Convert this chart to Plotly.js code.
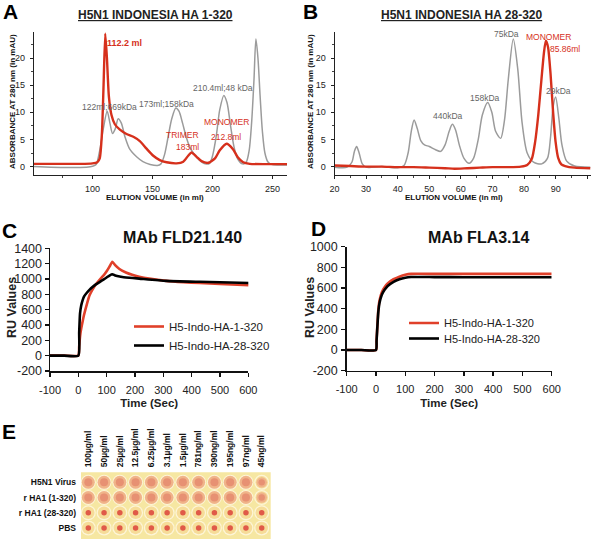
<!DOCTYPE html>
<html>
<head>
<meta charset="utf-8">
<script src="https://cdn.plot.ly/plotly-3.0.1.min.js"></script>
<style>html,body{margin:0;padding:0;background:#fff;}#chart{width:592px;height:539px;}</style>
</head>
<body>
<div id="chart"></div>
<script>
// ---------- Panel A: H5N1 Indonesia HA 1-320 (size exclusion) ----------
const aGrayVol = [51,65,80,95,100,103,106,109,112.2,114.5,116.7,119,121.4,124,127,131,136.7,142,148,154,157,160,163,166,169.4,172,175,178,181,185,189,194,197.5,200,203,206,209.4,212,215,218,221,225,228,230.5,232.5,234.5,236.1,237.8,239.6,241.5,243.6,246,249,255,262];
const aGrayAbs = [0,-0.1,-0.15,-0.1,0.05,0.4,3,7,10.2,8,6.1,7,8.8,8,5.5,3.2,1.8,0.9,0.4,0.2,0.5,2.2,5.5,8.8,10.8,10.2,8,5.5,3.6,2.2,1.2,0.5,0.6,2,5.5,10.5,13.1,11.8,7.5,3.5,1.4,0.5,0.8,3,8,16,23.5,20,13,6.5,2.5,0.9,0.4,0.3,0.3];
const aRedVol = [51,70,90,100,104,106,107.8,109.2,110.6,112,113.6,115.8,118.6,122.8,128.3,134,139.4,145,150.6,156,161.7,170,175.6,179.7,182.5,186.7,190.8,196.4,202,206,211.7,217,221,225.5,231,245,262];
const aRedAbs = [0.5,0.5,0.5,0.6,0.8,1.5,6,15,24.5,20,13,9.5,7.8,6.8,6,5.5,4.7,3.3,2,1.2,0.8,0.6,0.9,2,2.6,1.8,1,0.7,1.5,3,4.2,3.2,1.7,0.8,0.5,0.45,0.45];

// ---------- Panel B: H5N1 Indonesia HA 28-320 ----------
const bGrayVol = [20,24,25.5,26.3,27,27.8,28.8,30,35,40,42,43.3,44.3,45.2,46.2,47.3,48.5,50,52,53.6,55,56.3,57.3,58.3,59.5,61,62.6,64,65.5,66.8,68.5,69.8,71,72.6,73.8,75,76.6,78,79.4,81,83,85.6,87.4,88.4,89.2,90,91,92,93.5,96,101];
const bGrayAbs = [-0.1,-0.1,0.8,2.8,3.7,2.5,0.5,-0.1,0,-0.2,0.2,2.5,6.5,8.6,7,4.8,4,3.7,3.1,2.8,4,6.5,7.8,6.8,4,1.5,0.6,1.5,5,9.5,11.8,10,6.5,5.2,8.5,16,23.5,18,8,2.5,0.8,0.5,1.5,5.5,11,12.8,9,4,1,0.1,-0.1];
const bRedVol = [20,25,30,35,40,45,50,55,58,62,66,70,75,79,81,82.5,83.5,84.5,85.5,86.3,86.9,87.6,88.4,89.2,90,90.8,91.8,93,96,101];
const bRedAbs = [0.2,0.1,0,0,-0.1,-0.1,-0.2,-0.3,-0.4,-0.3,-0.2,-0.1,-0.1,0,0.3,1.5,4.5,9.5,16,21,23.2,22,17,10,4.5,1.6,0.4,0.1,-0.2,-0.3];

// ---------- Panel C: MAb FLD21.140 ----------
const cRedTime = [-100,-50,0,3,6,10,15,20,30,40,50,62,75,90,100,110,120,130,145,168,190,215,250,310,370,428,500,604];
const cRedRU   = [0,0,0,120,250,350,443,530,670,790,860,930,990,1050,1100,1160,1225,1180,1130,1085,1055,1030,1005,975,958,947,935,918];
const cBlkTime = [-100,-50,0,3,6,10,15,20,30,40,50,62,75,90,100,110,120,130,150,168,215,310,428,500,604];
const cBlkRU   = [0,0,0,300,550,650,720,770,820,860,895,930,960,995,1020,1045,1062,1045,1030,1020,1005,975,963,957,948];

// ---------- Panel D: MAb FLA3.14 ----------
const dTime   = [-100,-50,0,2,4,6,8,12,20,30,40,60,80,100,120,200,300,400,500,600];
const dRedRU  = [0,0,0,100,200,300,390,480,560,610,645,685,710,728,737,737,737,737,737,737];
const dBlkRU  = [0,0,0,90,190,285,370,455,535,585,620,660,685,700,707,706,705,705,705,705];

const series1 = 'H5-Indo-HA-1-320';
const series2 = 'H5-Indo-HA-28-320';

// tick labels of the binding panels
const timeTicks = [-100,0,100,200,300,400,500,600];
const cRUTicks = [-200,0,200,400,600,800,1000,1200,1400];
const dRUTicks = [-200,0,200,400,600,800,1000];

// ---------- Panel E: hemagglutination plate ----------
const eCols = ['100µg/ml','50µg/ml','25µg/ml','12.5µg/ml','6.25µg/ml','3.1µg/ml','1.5µg/ml','781ng/ml','390ng/ml','195ng/ml','97ng/ml','45ng/ml'];
const eRows = ['H5N1 Virus','r HA1 (1-320)','r HA1 (28-320)','PBS'];
// 1 = diffuse (agglutinated) well, 0 = button (no agglutination)
const eAgglut = [
  [1,1,1,1,1,1,1,1,1,1,1,0.8],
  [1,1,1,1,1,1,1,1,1,1,1,0.8],
  [0,0,0,0,0,0,0,0,0,0,0,0],
  [0,0,0,0,0,0,0,0,0,0,0,0]
];

// ---------- styles ----------
const NARROW = '"Liberation Sans Narrow", "Arial Narrow", "Liberation Sans", Arial, sans-serif';
const SANS = '"Liberation Sans", Arial, Helvetica, sans-serif';
const RED = '#d6301c';
const GRAY = '#9b9b9b';
const W = 592, H = 539;
const px = v => v / W;
const py = v => 1 - v / H;

const traces = [];
// A
traces.push({x:aGrayVol, y:aGrayAbs, xaxis:'x', yaxis:'y', mode:'lines', line:{color:GRAY, width:1.5, shape:'spline', smoothing:0.8}, showlegend:false, hoverinfo:'skip'});
traces.push({x:aRedVol, y:aRedAbs, xaxis:'x', yaxis:'y', mode:'lines', line:{color:RED, width:2.4, shape:'spline', smoothing:0.6}, showlegend:false, hoverinfo:'skip'});
// B
traces.push({x:bGrayVol, y:bGrayAbs, xaxis:'x2', yaxis:'y2', mode:'lines', line:{color:GRAY, width:1.5, shape:'spline', smoothing:0.8}, showlegend:false, hoverinfo:'skip'});
traces.push({x:bRedVol, y:bRedAbs, xaxis:'x2', yaxis:'y2', mode:'lines', line:{color:RED, width:2.4, shape:'spline', smoothing:0.6}, showlegend:false, hoverinfo:'skip'});
// C
traces.push({x:cRedTime, y:cRedRU, xaxis:'x3', yaxis:'y3', mode:'lines', name:series1, line:{color:'#e0402a', width:2.6, shape:'spline', smoothing:0.5}, legend:'legend'});
traces.push({x:cBlkTime, y:cBlkRU, xaxis:'x3', yaxis:'y3', mode:'lines', name:series2, line:{color:'#000', width:2.6, shape:'spline', smoothing:0.5}, legend:'legend'});
// D
traces.push({x:dTime, y:dRedRU, xaxis:'x4', yaxis:'y4', mode:'lines', name:series1, line:{color:'#e0402a', width:2.6, shape:'spline', smoothing:0.5}, legend:'legend2'});
traces.push({x:dTime, y:dBlkRU, xaxis:'x4', yaxis:'y4', mode:'lines', name:series2, line:{color:'#000', width:2.6, shape:'spline', smoothing:0.5}, legend:'legend3'});

// E wells
const wx = [], wy = [], dx = [], dy = [], dsz = [], bx = [], by = [];
eRows.forEach((r, ri) => {
  eCols.forEach((c, ci) => {
    wx.push(ci); wy.push(ri);
    const a = eAgglut[ri][ci];
    if (a > 0) { dx.push(ci); dy.push(ri); dsz.push(a); }
    else { bx.push(ci); by.push(ri); }
  });
});
traces.push({x:wx, y:wy, xaxis:'x5', yaxis:'y5', mode:'markers', marker:{size:15, color:'#fdf5d6', line:{width:0}}, showlegend:false, hoverinfo:'skip'});
traces.push({x:wx, y:wy, xaxis:'x5', yaxis:'y5', mode:'markers', marker:{size:12.5, color:'#f6dc98', line:{width:0}}, showlegend:false, hoverinfo:'skip'});
traces.push({x:dx, y:dy, xaxis:'x5', yaxis:'y5', mode:'markers', marker:{size:dsz.map(a => 13 * a), color:'#eea383', line:{width:0}}, showlegend:false, hoverinfo:'skip'});
traces.push({x:dx, y:dy, xaxis:'x5', yaxis:'y5', mode:'markers', marker:{size:dsz.map(a => 8 * a), color:'#e2816a', line:{width:0}}, showlegend:false, hoverinfo:'skip'});
traces.push({x:bx, y:by, xaxis:'x5', yaxis:'y5', mode:'markers', marker:{size:5.5, color:'#e05a48', line:{width:0}}, showlegend:false, hoverinfo:'skip'});

const smallTick = {family: NARROW, size: 9, color: '#222'};
const chromX = (dom, range, dtick, minor, anchor) => ({
  domain: dom, range: range, anchor: anchor, showgrid:false, zeroline:false,
  showline:true, linecolor:'#222', linewidth:1, ticks:'outside', ticklen:3, tickcolor:'#222',
  dtick: dtick, tick0: 0, tickfont: smallTick, ticklabelstandoff: 2,
  minor: {dtick: minor, ticks:'outside', ticklen:2, tickcolor:'#444', showgrid:false}
});
const chromY = (dom, range, anchor) => ({
  domain: dom, range: range, anchor: anchor, showgrid:false, zeroline:false,
  showline:true, linecolor:'#222', linewidth:1, ticks:'outside', ticklen:3, tickcolor:'#222',
  dtick: 5, tick0: 0, tickfont: smallTick, ticklabelstandoff: 3,
  minor: {dtick: 2.5, ticks:'outside', ticklen:2, tickcolor:'#444', showgrid:false}
});
const spr = (dom, range, ticks, anchor, isY, stand) => ({
  domain: dom, range: range, anchor: anchor, showgrid:false, zeroline:false,
  showline:true, linecolor:'#111', linewidth:1.5, ticks:'outside', ticklen:4, tickcolor:'#111', tickwidth:1.5,
  tickmode:'array', tickvals: ticks, ticktext: ticks.map(v => String(v)),
  tickfont: {family: SANS, size: isY ? 12.5 : 11, color:'#222'},
  ticklabelstandoff: stand
});

const yDomAB = [py(175), py(31.7)];
const legBase = {xanchor:'left', yanchor:'middle', bgcolor:'rgba(0,0,0,0)', borderwidth:0};
const layout = {
  width: W, height: H, margin:{l:0, r:0, t:0, b:0},
  paper_bgcolor:'#fff', plot_bgcolor:'rgba(0,0,0,0)',
  font:{family: SANS, color:'#222'},
  xaxis: chromX([px(33.7), px(287)], [51, 262], 50, 25, 'y'),
  yaxis: chromY(yDomAB, [-1.55, 24.85], 'x'),
  xaxis2: chromX([px(334.5), px(590.7)], [20, 101.1], 10, 5, 'y2'),
  yaxis2: chromY(yDomAB, [-1.55, 24.85], 'x2'),
  xaxis3: Object.assign(spr([px(50), px(248.3)], [-100, 600], timeTicks, 'y3', false, 4),
    {title:{text:'<b>Time (Sec)</b>', font:{family:SANS, size:11.5, color:'#222'}, standoff: 4}}),
  yaxis3: spr([py(371), py(248.3)], [-200, 1400], cRUTicks, 'x3', true, 0),
  xaxis4: Object.assign(spr([px(346.7), px(551.7)], [-100, 600], timeTicks, 'y4', false, 4),
    {title:{text:'<b>Time (Sec)</b>', font:{family:SANS, size:11.5, color:'#222'}, standoff: 4}}),
  yaxis4: spr([py(370.7), py(246.7)], [-200, 1000], dRUTicks, 'x4', true, 1),
  xaxis5: {domain:[px(81), px(270.7)], range:[-0.463, 11.57], anchor:'y5', side:'top',
    showgrid:false, zeroline:false, showline:false, ticks:'',
    tickmode:'array', tickvals: eCols.map((c,i)=>i), ticktext: eCols.map(c=>'<b>'+c+'</b>'),
    tickangle:-90, tickfont:{family:NARROW, size:8.5, color:'#111'}, ticklabelstandoff: 4},
  yaxis5: {domain:[0, py(472.3)], range:[3.73, -0.66], anchor:'x5',
    showgrid:false, zeroline:false, showline:false, ticks:'',
    tickmode:'array', tickvals: eRows.map((r,i)=>i), ticktext: eRows.map(r=>'<b>'+r+'</b>'),
    tickfont:{family:NARROW, size:8.5, color:'#111'}, ticklabelstandoff: 4},
  legend: Object.assign({x: px(129), y: py(336), font:{family:SANS, size:11.5, color:'#222'}}, legBase),
  legend2: Object.assign({x: px(404), y: py(323), font:{family:SANS, size:11, color:'#222'}}, legBase),
  legend3: Object.assign({x: px(404), y: py(338.5), font:{family:SANS, size:11, color:'#222'}}, legBase),
  shapes: [
    {type:'rect', xref:'x5 domain', yref:'y5 domain', x0:0, x1:1, y0:0, y1:1,
     fillcolor:'#f6e7a2', line:{width:0}, layer:'below'}
  ],
  annotations: []
};

const ann = layout.annotations;
const paperText = (text, x, y, font, extra) => ann.push(Object.assign({
  text: text, xref:'paper', yref:'paper', x: px(x), y: py(y), showarrow:false,
  xanchor:'center', yanchor:'middle', font: font}, extra || {}));

// panel letters
const letterFont = {family: SANS, size: 21, color:'#000'};
paperText('<b>A</b>', 1, 11, letterFont, {xanchor:'left'});
paperText('<b>B</b>', 301, 11, letterFont, {xanchor:'left'});
paperText('<b>C</b>', 0, 230, letterFont, {xanchor:'left'});
paperText('<b>D</b>', 309, 228, letterFont, {xanchor:'left'});
paperText('<b>E</b>', 0, 431, letterFont, {xanchor:'left'});

// panel titles A/B
const ttlFont = {family: NARROW, size: 12, color:'#222', lineposition:'under'};
paperText('<b>H5N1 INDONESIA HA 1-320</b>', 155, 15, ttlFont);
paperText('<b>H5N1 INDONESIA HA 28-320</b>', 461, 15, ttlFont);
// axis titles A/B
const axFont = {family: NARROW, size: 8, color:'#111'};
paperText('<b>ELUTION VOLUME (in ml)</b>', 155, 198, axFont);
paperText('<b>ELUTION VOLUME (in ml)</b>', 454, 198, axFont);
paperText('<b>ABSORBANCE AT 280 nm (in mAU)</b>', 13, 102, axFont, {textangle:-90});
paperText('<b>ABSORBANCE AT 280 nm (in mAU)</b>', 311, 102, axFont, {textangle:-90});
// titles C/D
const mabFont = {family: SANS, size: 16, color:'#111'};
paperText('<b>MAb FLD21.140</b>', 182, 238, mabFont);
paperText('<b>MAb FLA3.14</b>', 478, 238, mabFont);
// RU axis titles C/D
const ruFont = {family: SANS, size: 12.5, color:'#222'};
paperText('<b>RU Values</b>', 12, 308, ruFont, {textangle:-90});
paperText('<b>RU Values</b>', 310, 308, ruFont, {textangle:-90});

// peak labels (data coordinates)
const gFont = {family: NARROW, size: 8.5, color:'#666'};
const rFont = {family: NARROW, size: 8.5, color: RED};
const lab = (text, x, y, xa, ya, font) => ann.push({text, x, y, xref:xa, yref:ya, showarrow:false, font, xanchor:'center', yanchor:'middle'});
lab('OLIGOMERS', 111.9, 25.7, 'x', 'y', rFont);
lab('<b>112.2 ml</b>', 127, 22.7, 'x', 'y', {family: SANS, size: 9, color: RED});
lab('122ml;669kDa', 114.5, 11, 'x', 'y', gFont);
lab('173ml;158kDa', 162, 11.5, 'x', 'y', gFont);
lab('210.4ml;48 kDa', 208.5, 14.5, 'x', 'y', gFont);
lab('237ml;25 kDa', 228.5, 25, 'x', 'y', gFont);
lab('TRIMER', 175, 5.8, 'x', 'y', rFont);
lab('183ml', 179.5, 3.6, 'x', 'y', rFont);
lab('MONOMER', 212, 8.2, 'x', 'y', rFont);
lab('212.8ml', 211, 5.5, 'x', 'y', rFont);

lab('440kDa', 56, 9.3, 'x2', 'y2', gFont);
lab('158kDa', 67.6, 12.7, 'x2', 'y2', gFont);
lab('75kDa', 74.3, 24.4, 'x2', 'y2', gFont);
lab('29kDa', 90.8, 13.9, 'x2', 'y2', gFont);
lab('MONOMER', 87.7, 23.8, 'x2', 'y2', rFont);
lab('85.86ml', 93, 21.6, 'x2', 'y2', rFont);

Plotly.newPlot('chart', traces, layout, {staticPlot:true, displayModeBar:false});
</script>
</body>
</html>
